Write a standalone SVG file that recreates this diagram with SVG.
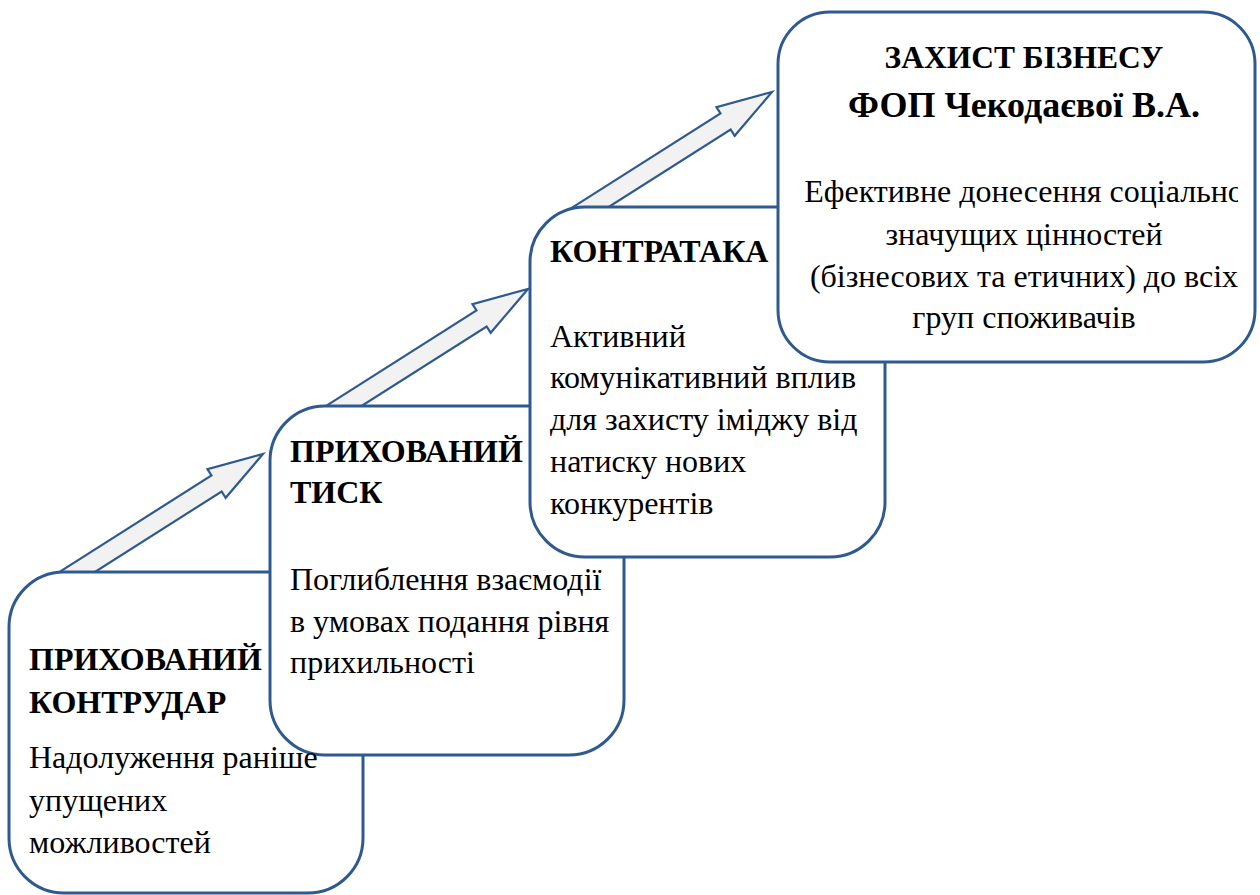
<svg xmlns="http://www.w3.org/2000/svg" width="1260" height="895" viewBox="0 0 1260 895">
  <defs>
    <!-- block arrow pointing along +x, tip at the origin -->
    <path id="blockArrow" d="M -240,-9.5 L -55,-9.5 L -55,-17 L 0,0 L -55,17 L -55,9.5 L -240,9.5 Z"/>
    <clipPath id="clipTop">
      <rect x="780" y="14" width="458" height="346"/>
    </clipPath>
  </defs>

  <!-- connectors: tails are tucked under the box they leave -->
  <g id="connectors" fill="#F2F2F2" stroke="#2F5A8F" stroke-width="2.2">
    <use href="#blockArrow" transform="translate(263,454) rotate(-32.4)"/>
    <use href="#blockArrow" transform="translate(528,289) rotate(-32.4)"/>
    <use href="#blockArrow" transform="translate(772,92) rotate(-32.4)"/>
  </g>

  <g id="step1">
    <rect x="9" y="572" width="354" height="321" rx="55" ry="55" fill="#ffffff" stroke="#2F5A8F" stroke-width="3"/>
  </g>
  <g id="step2">
    <rect x="270" y="406" width="354" height="349" rx="55" ry="55" fill="#ffffff" stroke="#2F5A8F" stroke-width="3"/>
  </g>
  <g id="step1-text" font-family="'Liberation Serif', serif" font-size="32" fill="#000000">
    <text font-weight="bold" x="29" y="670">ПРИХОВАНИЙ</text>
    <text font-weight="bold" x="29" y="713">КОНТРУДАР</text>
    <text x="29" y="768">Надолуження раніше</text>
    <text x="29" y="811">упущених</text>
    <text x="29" y="853">можливостей</text>
  </g>
  <g id="step2-text" font-family="'Liberation Serif', serif" font-size="32" fill="#000000">
    <text font-weight="bold" x="290" y="462">ПРИХОВАНИЙ</text>
    <text font-weight="bold" x="290" y="503">ТИСК</text>
    <text x="290" y="590">Поглиблення взаємодії</text>
    <text x="290" y="632">в умовах подання рівня</text>
    <text x="290" y="673">прихильності</text>
  </g>

  <g id="step3" font-family="'Liberation Serif', serif" font-size="32" fill="#000000">
    <rect x="530" y="207" width="355" height="350" rx="55" ry="55" fill="#ffffff" stroke="#2F5A8F" stroke-width="3"/>
    <text font-weight="bold" x="550" y="262">КОНТРАТАКА</text>
    <text x="550" y="347">Активний</text>
    <text x="550" y="388">комунікативний вплив</text>
    <text x="550" y="430">для захисту іміджу від</text>
    <text x="550" y="472">натиску нових</text>
    <text x="550" y="514">конкурентів</text>
  </g>

  <g id="step4" font-family="'Liberation Serif', serif" font-size="32" fill="#000000">
    <rect x="778" y="12" width="477" height="350" rx="52" ry="52" fill="#ffffff" stroke="#2F5A8F" stroke-width="3"/>
    <g clip-path="url(#clipTop)" text-anchor="middle">
      <text font-weight="bold" font-size="31.5" x="1024" y="68">ЗАХИСТ БІЗНЕСУ</text>
      <text font-weight="bold" font-size="36" x="1024" y="117">ФОП Чекодаєвої В.А.</text>
      <text x="1024" y="202">Ефективне донесення соціально</text>
      <text x="1024" y="245">значущих цінностей</text>
      <text x="1024" y="287">(бізнесових та етичних) до всіх</text>
      <text x="1024" y="328">груп споживачів</text>
    </g>
  </g>
</svg>
